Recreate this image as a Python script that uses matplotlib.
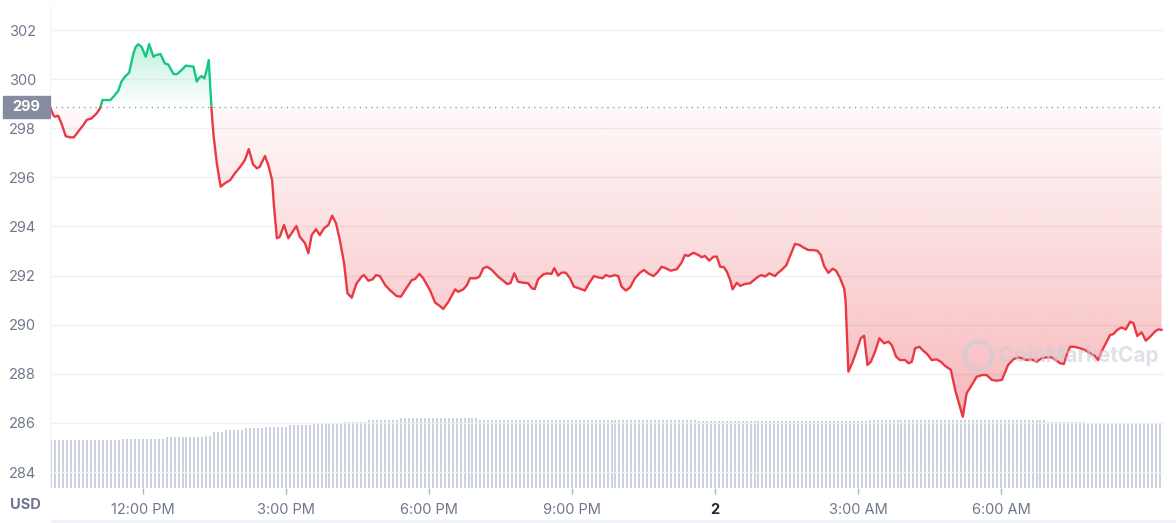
import numpy as np
import matplotlib
matplotlib.use('Agg')
import matplotlib.pyplot as plt
import matplotlib.transforms as mtransforms
from matplotlib.path import Path
from matplotlib.patches import Rectangle
from matplotlib.lines import Line2D

plt.rcParams['font.family'] = ['Inter', 'DejaVu Sans']

# price, hours since midnight of day 1
times = [10.05, 10.12, 10.15, 10.22, 10.29, 10.38, 10.47, 10.55, 10.64, 10.75, 10.82, 10.92, 11.03, 11.10,
         11.15, 11.24, 11.32, 11.41, 11.48, 11.55, 11.62, 11.71, 11.80, 11.85, 11.90, 11.97, 12.06, 12.13,
         12.22, 12.27, 12.37, 12.46, 12.53, 12.64, 12.71, 12.81, 12.90, 12.99, 13.06, 13.13, 13.17, 13.23,
         13.29, 13.34, 13.38, 13.44, 13.48, 13.55, 13.63, 13.72, 13.83, 13.93, 14.04, 14.14, 14.22, 14.31,
         14.39, 14.45, 14.56, 14.63, 14.71, 14.75, 14.81, 14.87, 14.96, 15.05, 15.14, 15.22, 15.29, 15.40,
         15.47, 15.54, 15.63, 15.71, 15.80, 15.89, 15.97, 16.05, 16.13, 16.22, 16.29, 16.38, 16.48, 16.59,
         16.64, 16.73, 16.82, 16.89, 16.97, 17.08, 17.18, 17.32, 17.41, 17.50, 17.64, 17.71, 17.80, 17.88,
         18.02, 18.13, 18.23, 18.30, 18.41, 18.55, 18.61, 18.72, 18.80, 18.86, 18.99, 19.06, 19.14, 19.22,
         19.32, 19.45, 19.56, 19.64, 19.71, 19.79, 19.87, 19.98, 20.08, 20.16, 20.22, 20.29, 20.40, 20.48,
         20.57, 20.63, 20.71, 20.78, 20.87, 20.96, 21.04, 21.15, 21.27, 21.36, 21.46, 21.55, 21.64, 21.71,
         21.80, 21.90, 21.97, 22.04, 22.13, 22.22, 22.32, 22.43, 22.51, 22.60, 22.71, 22.79, 22.88, 22.97,
         23.07, 23.20, 23.30, 23.37, 23.44, 23.55, 23.65, 23.72, 23.79, 23.88, 23.97, 24.04, 24.11, 24.19,
         24.25, 24.32, 24.37, 24.46, 24.53, 24.63, 24.74, 24.80, 24.91, 24.98, 25.05, 25.14, 25.26, 25.31,
         25.40, 25.50, 25.57, 25.68, 25.77, 25.85, 25.96, 26.06, 26.15, 26.22, 26.29, 26.38, 26.47, 26.54,
         26.62, 26.71, 26.74, 26.80, 26.89, 26.99, 27.06, 27.13, 27.20, 27.27, 27.36, 27.45, 27.55, 27.64,
         27.71, 27.80, 27.88, 27.99, 28.06, 28.13, 28.20, 28.29, 28.37, 28.45, 28.55, 28.65, 28.74, 28.83,
         28.95, 29.04, 29.13, 29.20, 29.28, 29.39, 29.49, 29.60, 29.70, 29.81, 29.91, 30.02, 30.15, 30.26,
         30.36, 30.44, 30.54, 30.64, 30.75, 30.85, 30.96, 31.06, 31.15, 31.24, 31.32, 31.38, 31.45, 31.55,
         31.66, 31.76, 31.87, 31.97, 32.04, 32.11, 32.22, 32.29, 32.36, 32.44, 32.53, 32.62, 32.71, 32.78,
         32.86, 32.95, 33.04, 33.13, 33.23, 33.30, 33.37]
prices = [298.85, 298.54, 298.47, 298.51, 298.20, 297.68, 297.63, 297.63, 297.86, 298.13, 298.34, 298.40, 298.61, 298.81,
          299.15, 299.15, 299.15, 299.35, 299.52, 299.90, 300.10, 300.26, 301.05, 301.32, 301.42, 301.32, 300.91, 301.43,
          300.91, 300.98, 301.02, 300.64, 300.60, 300.21, 300.20, 300.37, 300.55, 300.53, 300.51, 299.90, 300.03, 300.13,
          300.03, 300.40, 300.78, 298.74, 297.72, 296.57, 295.62, 295.76, 295.89, 296.17, 296.43, 296.71, 297.15, 296.53,
          296.37, 296.43, 296.87, 296.50, 295.89, 294.81, 293.52, 293.58, 294.06, 293.52, 293.79, 294.02, 293.58, 293.32,
          292.91, 293.65, 293.89, 293.65, 293.93, 294.06, 294.44, 294.13, 293.45, 292.50, 291.28, 291.10, 291.68, 291.96,
          292.02, 291.79, 291.85, 292.02, 291.98, 291.62, 291.41, 291.17, 291.14, 291.41, 291.82, 291.86, 292.07, 291.89,
          291.41, 290.90, 290.76, 290.64, 290.94, 291.44, 291.34, 291.44, 291.62, 291.89, 291.89, 291.96, 292.30, 292.36,
          292.23, 291.96, 291.79, 291.66, 291.69, 292.09, 291.75, 291.71, 291.69, 291.48, 291.45, 291.85, 292.05, 292.09,
          292.07, 292.30, 292.00, 292.12, 292.12, 291.89, 291.55, 291.48, 291.39, 291.69, 291.98, 291.93, 291.89, 292.02,
          291.96, 292.02, 291.98, 291.55, 291.39, 291.52, 291.89, 292.12, 292.23, 292.09, 291.98, 292.12, 292.36, 292.30,
          292.20, 292.26, 292.53, 292.84, 292.80, 292.93, 292.84, 292.75, 292.80, 292.61, 292.77, 292.77, 292.36, 292.34,
          292.16, 291.82, 291.44, 291.71, 291.58, 291.66, 291.69, 291.79, 291.96, 292.02, 291.96, 292.09, 291.98, 292.09,
          292.23, 292.43, 292.77, 293.29, 293.25, 293.15, 293.04, 293.04, 293.01, 292.84, 292.39, 292.11, 292.28, 292.20,
          291.92, 291.48, 291.01, 288.09, 288.49, 289.04, 289.45, 289.55, 288.36, 288.49, 288.90, 289.45, 289.24, 289.31,
          289.17, 288.70, 288.56, 288.56, 288.43, 288.49, 289.04, 289.10, 288.94, 288.81, 288.56, 288.59, 288.49, 288.32,
          288.16, 287.34, 286.73, 286.25, 287.21, 287.55, 287.88, 287.95, 287.95, 287.75, 287.72, 287.75, 288.36, 288.59,
          288.67, 288.63, 288.56, 288.59, 288.49, 288.63, 288.67, 288.67, 288.56, 288.43, 288.40, 288.77, 289.10, 289.10,
          289.04, 288.97, 288.84, 288.73, 288.56, 288.90, 289.31, 289.58, 289.62, 289.79, 289.89, 289.81, 290.12, 290.06,
          289.54, 289.69, 289.35, 289.51, 289.72, 289.81, 289.79]
open_price = 298.86
open_label = '299'

# 5 minute volume bars, as runs of equal height (relative units)
vol_levels = [9.94, 10.14, 10.50, 10.83, 11.66, 12.01, 12.36, 12.69, 13.04, 13.40, 13.73, 14.08, 14.39,
              14.10, 13.95, 14.02, 13.70, 13.15]
vol_counts = [18, 11, 10, 2, 3, 5, 5, 6, 6, 8, 6, 8, 20, 55, 43, 45, 10, 20]

price_ticks = [284, 286, 288, 290, 292, 294, 296, 298, 300, 302]
tick_hours = [12, 15, 18, 21, 24, 27, 30]
tick_labels = ['12:00 PM', '3:00 PM', '6:00 PM', '9:00 PM', '2', '3:00 AM', '6:00 AM']

GREEN = '#16c784'
RED = '#ea3943'
GREY = '#6f788a'
t0, t1 = 10.05, 33.40
y0, y1 = 283.35, 303.02

times = np.array(times)
prices = np.array(prices)

fig = plt.figure(figsize=(11.76, 5.23), dpi=100)
pos = [50 / 1176, 35 / 523, 1113 / 1176, 483 / 523]

# volume underneath
axv = fig.add_axes(pos)
vol = np.repeat(vol_levels, vol_counts)
vol_t = 10.08 + np.arange(len(vol)) * 5 / 60
axv.vlines(vol_t, 0, vol, color='#cdd3de', lw=1.44, antialiased=False)
axv.set_xlim(t0, t1)
axv.set_ylim(0, 100)
axv.axis('off')

ax = fig.add_axes(pos, facecolor='none')


def gradient_fill(coll, color, a_low, a_high, lo, hi):
    clip = Path.make_compound_path(*coll.get_paths())
    coll.remove()
    grad = np.zeros((256, 1, 4))
    grad[:, 0, :3] = matplotlib.colors.to_rgb(color)
    grad[:, 0, 3] = np.linspace(a_low, a_high, 256)
    im = ax.imshow(grad, extent=[t0, t1, lo, hi], origin='lower', aspect='auto',
                   interpolation='bilinear', zorder=1)
    im.set_clip_path(clip, transform=ax.transData)


up = ax.fill_between(times, prices, open_price, where=prices >= open_price, interpolate=True)
gradient_fill(up, GREEN, 0.0, 0.26, open_price, 301.45)
down = ax.fill_between(times, prices, open_price, where=prices <= open_price, interpolate=True)
gradient_fill(down, RED, 0.36, 0.0, 286.2, 300.0)

lg, = ax.plot(times, prices, color=GREEN, lw=1.7, zorder=4, solid_joinstyle='round')
lr, = ax.plot(times, prices, color=RED, lw=1.7, zorder=4, solid_joinstyle='round')
lg.set_clip_path(Rectangle((t0 - 1, open_price), 40, 20, transform=ax.transData))
lr.set_clip_path(Rectangle((t0 - 1, open_price - 20), 40, 20, transform=ax.transData))

ax.axhline(open_price, color='#8a919e', lw=0.9, ls=(0, (1, 3.5)), zorder=3)

ax.set_xlim(t0, t1)
ax.set_ylim(y0, y1)
ax.set_yticks(price_ticks)
ax.set_xticks(tick_hours)
ax.set_xticklabels(tick_labels)
ax.grid(axis='y', color='#eef0f3', lw=1)
ax.set_axisbelow(True)
for s in ['top', 'right', 'bottom']:
    ax.spines[s].set_visible(False)
ax.spines['left'].set_color('#f1f3f6')
ax.tick_params(axis='y', length=0, pad=10, labelsize=10.5, labelcolor=GREY)
ax.tick_params(axis='x', length=4, width=1, color='#aeb5c0', pad=7, labelsize=10.5, labelcolor=GREY)
day_lbl = ax.get_xticklabels()[4]
day_lbl.set_fontweight('bold')
day_lbl.set_color('#222531')

# open price tag on the y axis
trans = mtransforms.blended_transform_factory(ax.transAxes, ax.transData)
ax.add_patch(Rectangle((-47 / 1113, open_price - 0.45), 47 / 1113, 0.9, transform=trans,
                       color='#858ca0', clip_on=False, zorder=5))
ax.text(-23.5 / 1113, open_price, open_label, transform=trans, ha='center', va='center',
        color='white', fontsize=10.5, fontweight='bold', zorder=6)

fig.text(25 / 1176, 1 - 505 / 523, 'USD', ha='center', va='center', fontsize=10.5,
         fontweight='bold', color=GREY)

# watermark
ax.plot([0.834], [0.275], 'o', transform=ax.transAxes, ms=20, mfc='none', mec='#c9ced6',
        mew=3, alpha=0.6, zorder=5)
ax.text(0.853, 0.275, 'CoinMarketCap', transform=ax.transAxes, ha='left', va='center',
        fontsize=15, fontweight='bold', color='#c9ced6', alpha=0.6, zorder=5)

fig.add_artist(Line2D([52 / 1176, 1], [2 / 523, 2 / 523], color='#eef1f6', lw=2))

fig.savefig('out.png', dpi=100)
